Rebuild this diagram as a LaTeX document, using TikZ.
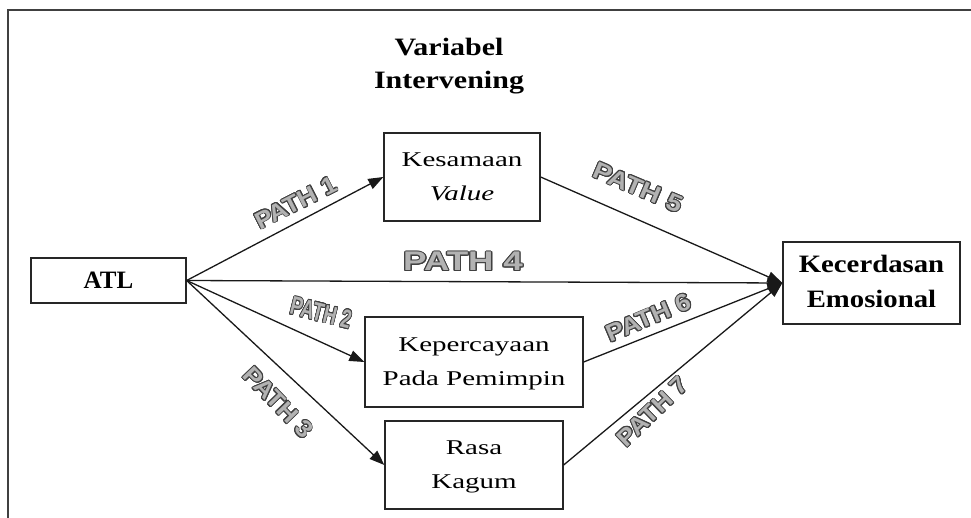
\documentclass[tikz,border=0pt]{standalone}
\usepackage{fontspec}
\setmainfont{Liberation Serif}
\setsansfont{Liberation Sans}
\usepackage{graphicx}
\usepackage{xcolor}
\usepackage[copies]{contour}
\usetikzlibrary{arrows.meta}
\contourlength{0.9pt}
\contournumber{16}
\definecolor{pstroke}{gray}{0.25}
\definecolor{pfill}{gray}{0.7}
\newcommand{\pathlbl}[3]{\scalebox{#2}[1]{\fontsize{#1}{#1}\selectfont\sffamily\bfseries\color{pfill}\contour{pstroke}{#3}}}
\newcommand{\boxtxt}[2]{\scalebox{#1}[1]{\fontsize{21}{34}\selectfont\begin{tabular}{@{}c@{}}#2\end{tabular}}}
\tikzset{
  boxnode/.style={draw=black!85, line width=1.3pt, inner sep=0pt, fill=white},
  arr/.style={draw=black!90, line width=1.3pt, -{Triangle[length=15pt,width=11pt]}},
  lbl/.style={inner sep=0pt}
}
\begin{document}
\begin{tikzpicture}[x=1pt,y=-1pt]
\useasboundingbox (0,0) rectangle (971,518);
\fill[white] (0,0) rectangle (971,518);
% frame
\draw[black!75, line width=2pt] (8,518) -- (8,10) -- (971,10);
% title
\node[lbl] (title) at (449,65) {\scalebox{1.2}[1]{\fontsize{25}{33}\selectfont\bfseries\begin{tabular}{@{}c@{}}Variabel\\Intervening\end{tabular}}};
% boxes
\node[boxnode, minimum width=155, minimum height=45] (atl) at (108.5,280.5) {\fontsize{25}{25}\selectfont\bfseries ATL};
\node[boxnode, minimum width=156, minimum height=88] (kes) at (462,177) {\boxtxt{1.38}{Kesamaan\\\textit{Value}}};
\node[boxnode, minimum width=218, minimum height=90] (kep) at (474,362) {\boxtxt{1.38}{Kepercayaan\\Pada Pemimpin}};
\node[boxnode, minimum width=178, minimum height=88] (ras) at (474,465) {\boxtxt{1.38}{Rasa\\Kagum}};
\node[boxnode, minimum width=177, minimum height=82] (kec) at (871.5,283) {\scalebox{1.15}[1]{\fontsize{25}{35}\selectfont\bfseries\begin{tabular}{@{}c@{}}Kecerdasan\\Emosional\end{tabular}}};
% connectors
\draw[arr] (atl.east) -- (kes.west);
\draw[arr] (atl.east) -- (kec.west);
\draw[arr] (atl.east) -- (kep.west);
\draw[arr] (atl.east) -- (ras.west);
\draw[arr] (kes.east) -- (kec.west);
\draw[arr] (kep.east) -- (kec.west);
\draw[arr] (ras.east) -- (kec.west);
% path labels
\node[lbl, rotate=27] (p1) at (296,203) {\pathlbl{24}{1.08}{PATH 1}};
\node[lbl] (p4) at (463,262) {\pathlbl{27}{1.3}{PATH 4}};
\node[lbl, rotate=-23] (p5) at (638,188) {\pathlbl{24}{1.15}{PATH 5}};
\node[lbl, rotate=-14] (p2) at (321,313) {\pathlbl{26}{0.7}{PATH 2}};
\node[lbl, rotate=-46] (p3) at (278,403) {\pathlbl{24}{1.08}{PATH 3}};
\node[lbl, rotate=23] (p6) at (649,318) {\pathlbl{24}{1.1}{PATH 6}};
\node[lbl, rotate=44] (p7) at (653,412) {\pathlbl{24}{1.08}{PATH 7}};
\end{tikzpicture}
\end{document}
